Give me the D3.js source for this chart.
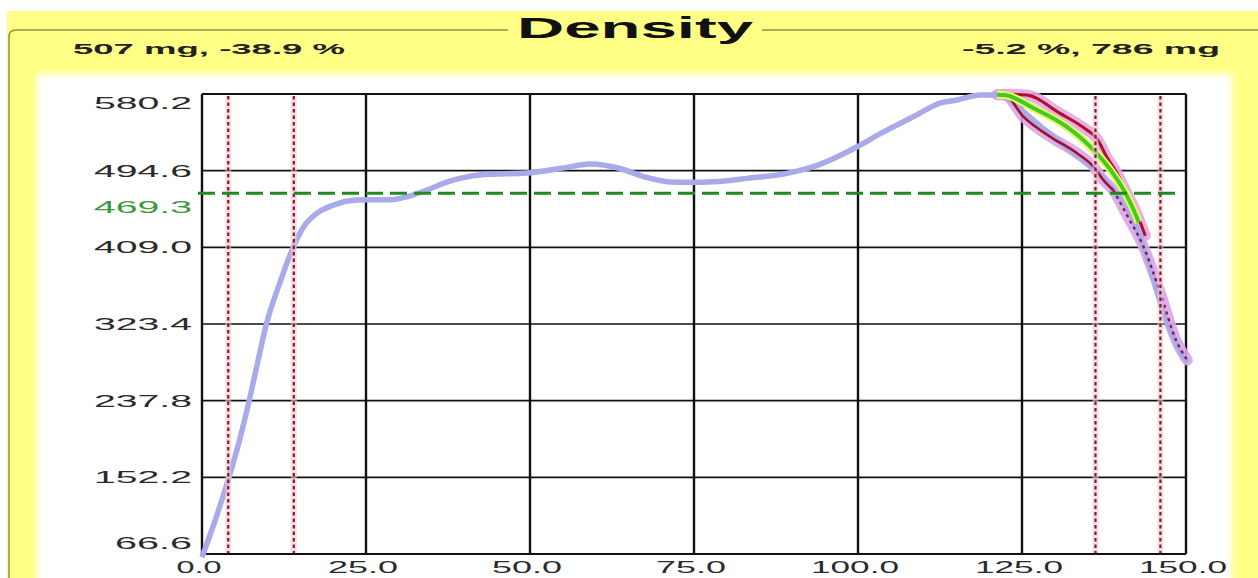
<!DOCTYPE html>
<html><head><meta charset="utf-8">
<script src="https://cdn.jsdelivr.net/npm/d3@7"></script>
<style>html,body{margin:0;padding:0;background:#fff;}svg{display:block;}</style>
</head><body>
<svg id="c" width="1258" height="578"></svg>
<script>
// ---- data ----
const chartTitle = "Density";
const headerLeft = "507 mg, -38.9 %";
const headerRight = "-5.2 %, 786 mg";
const xTicks = [0, 25, 50, 75, 100, 125, 150];
const xTickLabels = ["0.0", "25.0", "50.0", "75.0", "100.0", "125.0", "150.0"];
const yTicks = [66.6, 152.2, 237.8, 323.4, 409.0, 494.6, 580.2];
const yTickLabels = ["66.6", "152.2", "237.8", "323.4", "409.0", "494.6", "580.2"];
const refLevel = 469.3;
const refLabel = "469.3";
const markerX = [4, 14, 136.2, 146.1];

const densityX = [0, 2, 4.1, 5.7, 7.2, 8.5, 9.8, 11.8, 13.9, 15.5, 17.5, 20, 22.5, 25, 28.7, 31.5, 34.3, 37, 39.3, 43.4, 49.5, 54.6, 59.2, 63.7, 67.3, 71.4, 74.4, 78, 83.1, 89.2, 93.2, 99.8, 103.4, 108.5, 112.5, 115.1, 118.6, 121.2, 123, 125, 128, 131, 134, 136.4, 139, 141.5, 143.5, 145.1, 146.6, 148.1, 149.6, 150.3];
const densityY = [63, 104, 152, 193, 238, 281, 323, 368, 409, 432, 447, 456, 461, 462, 462, 466, 473, 481, 486, 490.5, 492, 497, 502, 497, 488, 482, 481.6, 482.3, 486, 491.6, 499, 521, 536, 555, 570, 573.5, 579, 579, 574, 562, 543, 525, 508, 494, 472, 446, 410, 372.5, 335, 309, 287, 281];

const upperX = [121.2, 122.4, 125.7, 130.8, 134.9, 136.4, 137.9, 139.5, 140.5, 142.3, 143.8];
const upperY = [579.5, 580, 579, 558.6, 540, 530.7, 510.2, 491.6, 476.7, 450, 422];
const lowerX = [121.2, 122.4, 125.2, 129.3, 133.4, 135.9, 137.4, 138.9, 141, 143.5, 146, 148.5, 150.2];
const lowerY = [579.5, 579, 554.9, 532.5, 514, 499, 484.2, 473, 445, 410, 360, 305, 283];
const midX = [121.2, 122.4, 126.8, 131.8, 135.9, 138.5, 140.5, 141.8, 142.8];
const midY = [579.5, 579, 564.2, 543.7, 517.7, 495.3, 473, 454.4, 437];

// ---- drawing ----
const svg = d3.select("#c");
const W = 1258, H = 578;
const x = d3.scaleLinear().domain([0, 150]).range([202, 1186]);
const y = d3.scaleLinear().domain([66.6, 580.2]).range([554, 94]);
const FONT = "'Liberation Sans', Arial, sans-serif";

const defs = svg.append("defs");
defs.append("filter").attr("id", "soft").attr("x", "-5%").attr("y", "-5%").attr("width", "110%").attr("height", "110%")
  .append("feGaussianBlur").attr("stdDeviation", 3);
defs.append("clipPath").attr("id", "plotclip").append("rect")
  .attr("x", 150).attr("y", 88).attr("width", 1050).attr("height", 472);

// background
svg.append("rect").attr("x", 0).attr("y", 0).attr("width", W).attr("height", H).attr("fill", "#ffffff");
svg.append("rect").attr("x", 7).attr("y", 11).attr("width", W - 7).attr("height", H - 11).attr("fill", "#ffff86");
svg.append("rect").attr("x", 37).attr("y", 74).attr("width", 1195).attr("height", 520)
  .attr("fill", "#ffffff").attr("filter", "url(#soft)");

// group box
svg.append("path")
  .attr("d", "M9,578 L9,37 Q9,30 16,30 L508,30 M762,30 L1258,30")
  .attr("fill", "none").attr("stroke", "#8f8f40").attr("stroke-width", 1.5);

function stretchedText(txt, xPos, yPos, size, weight, len, anchor, fill) {
  return svg.append("text").text(txt)
    .attr("x", xPos).attr("y", yPos)
    .attr("font-family", FONT).attr("font-size", size).attr("font-weight", weight)
    .attr("text-anchor", anchor).attr("fill", fill)
    .attr("textLength", len).attr("lengthAdjust", "spacingAndGlyphs");
}
stretchedText(chartTitle, 635, 38, 29, "bold", 236, "middle", "#111");
stretchedText(headerLeft, 73, 54, 15.5, "bold", 272, "start", "#222");
stretchedText(headerRight, 1220, 54, 15.5, "bold", 258, "end", "#222");

// grid
const g = svg.append("g");
g.selectAll(".hg").data(yTicks).enter().append("line")
  .attr("x1", x(0)).attr("x2", x(150)).attr("y1", d => y(d)).attr("y2", d => y(d))
  .attr("stroke", "#111").attr("stroke-width", d => (d === yTicks[0] || d === yTicks[yTicks.length - 1]) ? 2.2 : 1.6);
g.selectAll(".vg").data(xTicks).enter().append("line")
  .attr("x1", d => x(d)).attr("x2", d => x(d)).attr("y1", y(580.2)).attr("y2", y(66.6))
  .attr("stroke", "#111").attr("stroke-width", 2.4);

// tick labels
yTickLabels.forEach((t, i) => {
  let cy = y(yTicks[i]);
  if (i === yTicks.length - 1) cy += 9;
  if (i === 0) cy -= 11;
  const len = t.length === 5 ? 98 : 77;
  stretchedText(t, 192, cy + 6, 17, "normal", len, "end", "#2a2a2a");
});
stretchedText(refLabel, 192, y(refLevel) + 20, 17, "normal", 98, "end", "#3d9a3d");
xTickLabels.forEach((t, i) => {
  const len = t.length === 5 ? 88 : (t.length === 4 ? 70 : 45);
  stretchedText(t, x(xTicks[i]) - 3, 573, 17, "normal", len, "middle", "#2a2a2a");
});

// curves
const plot = svg.append("g").attr("clip-path", "url(#plotclip)");
const line = d3.line().x(d => x(d[0])).y(d => y(d[1])).curve(d3.curveMonotoneX);
const zipXY = (a, b) => a.map((v, i) => [v, b[i]]);
const dens = zipXY(densityX, densityY);
const up = zipXY(upperX, upperY);
const lo = zipXY(lowerX, lowerY);
const mid = zipXY(midX, midY);
const loSolid = lo.filter(d => d[0] <= 139);
const loDotted = lo.filter(d => d[0] >= 138.9);

// halos
plot.append("path").attr("d", line(up)).attr("fill", "none").attr("stroke", "#e4a6e6").attr("stroke-width", 11).attr("stroke-linecap", "round").attr("opacity", 0.9);
plot.append("path").attr("d", line(lo)).attr("fill", "none").attr("stroke", "#d9a6e8").attr("stroke-width", 11).attr("stroke-linecap", "round").attr("opacity", 0.9);
// main density
plot.append("path").attr("d", line(dens)).attr("fill", "none").attr("stroke", "#aaaaea").attr("stroke-width", 5.5).attr("stroke-linejoin", "round");
// envelope lines
plot.append("path").attr("d", line(up)).attr("fill", "none").attr("stroke", "#b0102a").attr("stroke-width", 3);
plot.append("path").attr("d", line(loSolid)).attr("fill", "none").attr("stroke", "#a0102a").attr("stroke-width", 2.6);
plot.append("path").attr("d", line(loDotted)).attr("fill", "none").attr("stroke", "#8a1a3a").attr("stroke-width", 2.4).attr("stroke-dasharray", "3,4");
plot.append("path").attr("d", line(mid)).attr("fill", "none").attr("stroke", "#f4f45a").attr("stroke-width", 8);
plot.append("path").attr("d", line(mid)).attr("fill", "none").attr("stroke", "#3ccc2c").attr("stroke-width", 4);

// reference lines
svg.selectAll(".mk").data(markerX).enter().append("line")
  .attr("x1", d => x(d)).attr("x2", d => x(d)).attr("y1", y(580.2) + 2).attr("y2", y(66.6) - 1)
  .attr("stroke", "#f3c6cc").attr("stroke-width", 6).attr("opacity", 0.6);
svg.selectAll(".mk2").data(markerX).enter().append("line")
  .attr("x1", d => x(d)).attr("x2", d => x(d)).attr("y1", y(580.2) + 2).attr("y2", y(66.6) - 1)
  .attr("stroke", "#7a1f35").attr("stroke-width", 2.2).attr("stroke-dasharray", "3.5,3");
svg.append("line")
  .attr("x1", 198).attr("x2", 1175).attr("y1", y(refLevel)).attr("y2", y(refLevel))
  .attr("stroke", "#1f8a1f").attr("stroke-width", 3).attr("stroke-dasharray", "17,7");
</script>
</body></html>
